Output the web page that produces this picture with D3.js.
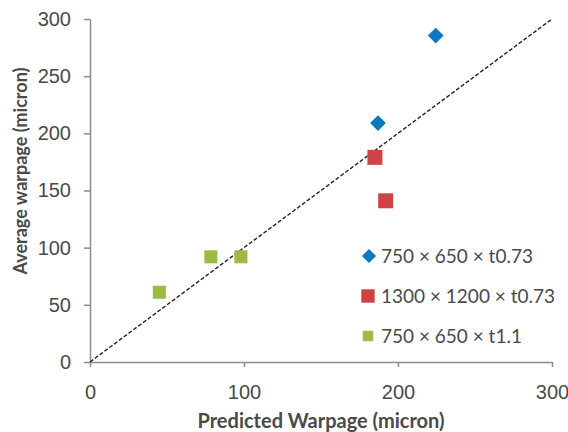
<!DOCTYPE html>
<html>
<head>
<meta charset="utf-8">
<script src="https://cdn.jsdelivr.net/npm/d3@7"></script>
<style>
  body { margin: 0; background: #fff; }
  svg { font-family: Lato, "Open Sans", sans-serif; }
</style>
</head>
<body>
<div id="chart"></div>
<script>
// series values: [predicted, average]
var seriesNames = ["750 \u00d7 650 \u00d7 t0.73", "1300 \u00d7 1200 \u00d7 t0.73", "750 \u00d7 650 \u00d7 t1.1"];
var seriesColors = ["#0f77bd", "#d04345", "#9bbb43"];
var seriesShapes = ["diamond", "square", "square"];
var blueVals = [[224.5, 285.5], [187, 209]];
var redVals = [[185, 179], [192, 141]];
var greenVals = [[45, 61], [78.5, 92], [98, 92]];
var tickVals = [0, 50, 100, 150, 200, 250, 300];
var xTickVals = [0, 100, 200, 300];

var width = 568, height = 432;
var margin = {top: 19, right: 16, bottom: 70, left: 90};

var svg = d3.select("#chart").append("svg")
    .attr("width", width)
    .attr("height", height);

var x = d3.scaleLinear()
    .domain([0, 300])
    .range([margin.left, width - margin.right]);

var y = d3.scaleLinear()
    .domain([0, 300])
    .range([height - margin.bottom, margin.top]);

// axes
var xAxis = svg.append("g")
    .attr("transform", "translate(0," + y(0) + ")")
    .call(d3.axisBottom(x).tickValues(xTickVals).tickSize(5).tickSizeOuter(0).tickPadding(18));

var yAxis = svg.append("g")
    .attr("transform", "translate(" + x(0) + ",0)")
    .call(d3.axisLeft(y).tickValues(tickVals).tickSize(6).tickSizeOuter(0).tickPadding(13));

[xAxis, yAxis].forEach(function(a){
    a.select(".domain").attr("stroke", "#8c8c8c").attr("stroke-width", 1.5);
    a.selectAll(".tick line").attr("stroke", "#8c8c8c").attr("stroke-width", 1.5);
    a.selectAll(".tick text").attr("fill", "#4a4a4a").style("font-size", "20px");
});

// 1:1 reference line
svg.append("line")
    .attr("x1", x(0)).attr("y1", y(0))
    .attr("x2", x(300)).attr("y2", y(300))
    .attr("stroke", "#222")
    .attr("stroke-width", 1.4)
    .attr("stroke-dasharray", "4,2");

var allSeries = [blueVals, redVals, greenVals];
var sizes = [125, 225, 170];

allSeries.forEach(function(vals, i){
    var sym = d3.symbol().type(d3.symbolSquare).size(sizes[i]);
    svg.selectAll(".pt" + i)
        .data(vals)
        .enter().append("path")
        .attr("class", "pt" + i)
        .attr("d", sym)
        .attr("fill", seriesColors[i])
        .attr("transform", function(d){
            var t = "translate(" + x(d[0]) + "," + y(d[1]) + ")";
            if (seriesShapes[i] == "diamond") t += " rotate(45)";
            return t;
        });
});

// legend
var legend = svg.append("g").attr("transform", "translate(369,256)");
seriesNames.forEach(function(name, i){
    var g = legend.append("g").attr("transform", "translate(0," + (i * 40) + ")");
    var s = [100, 180, 110][i];
    g.append("path")
        .attr("d", d3.symbol().type(d3.symbolSquare).size(s))
        .attr("fill", seriesColors[i])
        .attr("transform", seriesShapes[i] == "diamond" ? "rotate(45)" : "translate(-1,0)");
    g.append("text")
        .attr("x", 12)
        .attr("y", 7)
        .attr("fill", "#4a4a4a")
        .style("font-size", "19px")
        .text(name);
});

// axis titles
svg.append("text")
    .attr("x", (x(0) + x(300)) / 2)
    .attr("y", 428)
    .attr("text-anchor", "middle")
    .attr("fill", "#4a4a4a")
    .style("font-size", "20px")
    .style("font-weight", "bold")
    .text("Predicted Warpage (micron)");

svg.append("text")
    .attr("transform", "translate(27,171) rotate(-90)")
    .attr("text-anchor", "middle")
    .attr("fill", "#4a4a4a")
    .style("font-size", "18px")
    .style("font-weight", "bold")
    .text("Average warpage (micron)");
</script>
</body>
</html>
